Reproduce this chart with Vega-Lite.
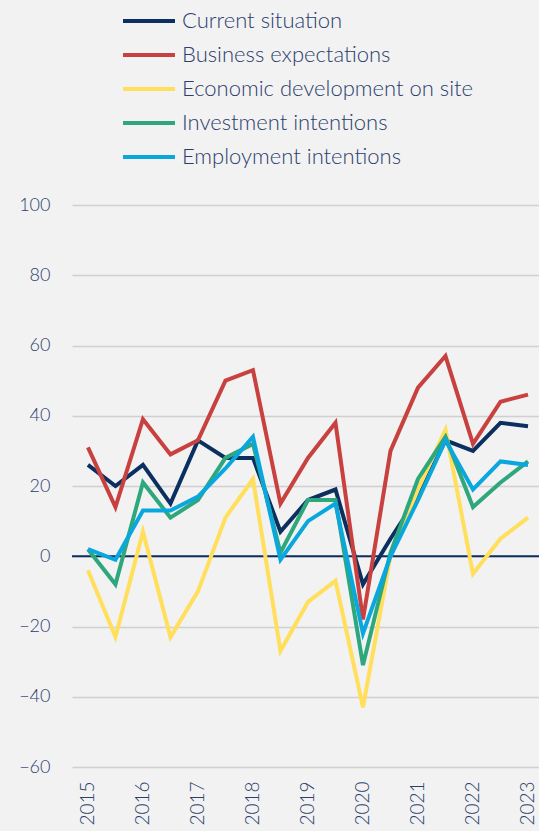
{
  "$schema": "https://vega.github.io/schema/vega-lite/v6.json",
  "width": 467,
  "height": 562,
  "autosize": {"type": "none"},
  "padding": {"left": 72, "top": 205, "right": 0, "bottom": 64},
  "background": "#f2f2f2",
  "config": {
    "view": {"stroke": null},
    "font": "Lato",
    "axis": {"labelColor": "#2c3e6e", "labelFont": "Lato", "labelFontWeight": 300},
    "legend": {"labelColor": "#2c3e6e", "labelFont": "Lato", "labelFontWeight": 300}
  },
  "datasets": {
    "survey": [
      {"t": 2015.0, "Current situation": 26, "Business expectations": 31, "Economic development on site": -4, "Investment intentions": 2, "Employment intentions": 2},
      {"t": 2015.5, "Current situation": 20, "Business expectations": 14, "Economic development on site": -23, "Investment intentions": -8, "Employment intentions": -1},
      {"t": 2016.0, "Current situation": 26, "Business expectations": 39, "Economic development on site": 7, "Investment intentions": 21, "Employment intentions": 13},
      {"t": 2016.5, "Current situation": 15, "Business expectations": 29, "Economic development on site": -23, "Investment intentions": 11, "Employment intentions": 13},
      {"t": 2017.0, "Current situation": 33, "Business expectations": 33, "Economic development on site": -10, "Investment intentions": 16, "Employment intentions": 17},
      {"t": 2017.5, "Current situation": 28, "Business expectations": 50, "Economic development on site": 11, "Investment intentions": 28, "Employment intentions": 25},
      {"t": 2018.0, "Current situation": 28, "Business expectations": 53, "Economic development on site": 22, "Investment intentions": 32, "Employment intentions": 34},
      {"t": 2018.5, "Current situation": 7, "Business expectations": 15, "Economic development on site": -27, "Investment intentions": 1, "Employment intentions": -1},
      {"t": 2019.0, "Current situation": 16, "Business expectations": 28, "Economic development on site": -13, "Investment intentions": 16, "Employment intentions": 10},
      {"t": 2019.5, "Current situation": 19, "Business expectations": 38, "Economic development on site": -7, "Investment intentions": 16, "Employment intentions": 15},
      {"t": 2020.0, "Current situation": -8, "Business expectations": -18, "Economic development on site": -43, "Investment intentions": -31, "Employment intentions": -22},
      {"t": 2020.5, "Current situation": 5, "Business expectations": 30, "Economic development on site": 0, "Investment intentions": 1, "Employment intentions": 0},
      {"t": 2021.0, "Current situation": 17, "Business expectations": 48, "Economic development on site": 19, "Investment intentions": 22, "Employment intentions": 16},
      {"t": 2021.5, "Current situation": 33, "Business expectations": 57, "Economic development on site": 36, "Investment intentions": 34, "Employment intentions": 33},
      {"t": 2022.0, "Current situation": 30, "Business expectations": 32, "Economic development on site": -5, "Investment intentions": 14, "Employment intentions": 19},
      {"t": 2022.5, "Current situation": 38, "Business expectations": 44, "Economic development on site": 5, "Investment intentions": 21, "Employment intentions": 27},
      {"t": 2023.0, "Current situation": 37, "Business expectations": 46, "Economic development on site": 11, "Investment intentions": 27, "Employment intentions": 26}
    ],
    "zero": [{"y": 0}]
  },
  "layer": [
    {
      "data": {"name": "zero"},
      "mark": {"type": "rule", "color": "#0b2f5e", "strokeWidth": 2},
      "encoding": {
        "y": {"field": "y", "type": "quantitative", "scale": {"domain": [-60, 100], "nice": false}}
      }
    },
    {
      "data": {"name": "survey"},
      "transform": [
        {"fold": ["Current situation", "Business expectations", "Economic development on site", "Investment intentions", "Employment intentions"], "as": ["series", "value"]}
      ],
      "mark": {"type": "line", "strokeWidth": 4, "strokeJoin": "miter", "strokeCap": "butt"},
      "encoding": {
        "x": {
          "field": "t", "type": "quantitative",
          "scale": {"domain": [2014.71, 2023.2], "nice": false, "zero": false},
          "axis": {
            "title": null, "values": [2015, 2016, 2017, 2018, 2019, 2020, 2021, 2022, 2023],
            "format": "d", "labelAngle": -90, "labelFontSize": 19, "labelPadding": 14,
            "grid": false, "domain": false, "ticks": false, "labelFlush": false, "labelOverlap": false
          }
        },
        "y": {
          "field": "value", "type": "quantitative",
          "scale": {"domain": [-60, 100], "nice": false},
          "axis": {
            "title": null, "values": [-60, -40, -20, 0, 20, 40, 60, 80, 100],
            "labelFontSize": 18, "labelPadding": 22, "domain": false, "ticks": false,
            "grid": true, "gridColor": "#d0d0d0", "gridWidth": 1.5
          }
        },
        "color": {
          "field": "series", "type": "nominal",
          "scale": {
            "domain": ["Current situation", "Business expectations", "Economic development on site", "Investment intentions", "Employment intentions"],
            "range": ["#0b2f5e", "#c8413f", "#ffdf5c", "#2ea77c", "#0aa7df"]
          },
          "legend": {
            "title": null, "orient": "none", "legendX": 66, "legendY": -195,
            "symbolType": "M-3,0H3", "symbolSize": 300, "symbolStrokeWidth": 4,
            "labelFontSize": 22, "labelOffset": 22, "rowPadding": 12, "labelLimit": 400
          }
        }
      }
    }
  ]
}
